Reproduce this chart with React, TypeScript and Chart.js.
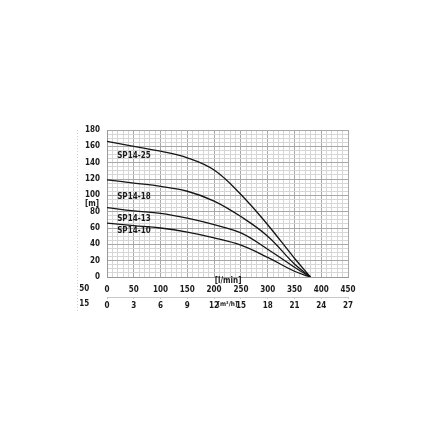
import React, { useEffect, useRef } from "react";
import { Chart, registerables } from "chart.js";

Chart.register(...registerables);

const flowLpm = [0, 50, 100, 150, 200, 250, 300, 350, 380];
const seriesNames = ["SP14-25", "SP14-18", "SP14-13", "SP14-10"];
const headSP1425 = [166, 160, 154, 146, 131, 101, 64, 23, 0];
const headSP1418 = [119, 115, 111, 105, 93, 74, 50, 16, 0];
const headSP1413 = [85, 81, 78, 72, 64, 54, 34, 12, 0];
const headSP1410 = [66, 63, 60, 55, 48, 39, 24, 7, 0];
const headSeries = [headSP1425, headSP1418, headSP1413, headSP1410];
const flowTicksLpm = [0, 50, 100, 150, 200, 250, 300, 350, 400, 450];
const flowTicksM3h = [0, 3, 6, 9, 12, 15, 18, 21, 24, 27];
const headTicks = [0, 20, 40, 60, 80, 100, 120, 140, 160, 180];

const FONT = "'Liberation Sans Narrow', 'DejaVu Sans Condensed', 'Arial Narrow', sans-serif";

const extrasPlugin = {
  id: "extras",
  afterDraw(chart: any) {
    const { ctx, chartArea, scales } = chart;
    const x = scales.x;
    const y = scales.y;
    const x2 = scales.x2;
    ctx.save();
    ctx.strokeStyle = "#cfcfcf";
    ctx.lineWidth = 1;
    ctx.setLineDash([1, 2]);
    ctx.beginPath();
    ctx.moveTo(77.5, chartArea.top);
    ctx.lineTo(77.5, chartArea.bottom + 36);
    ctx.stroke();
    ctx.setLineDash([]);

    ctx.fillStyle = "#1a1a1a";
    ctx.font = `bold 8px ${FONT}`;
    ctx.textBaseline = "middle";
    ctx.textAlign = "center";
    const yLab1 = chartArea.bottom + 12;
    const yLab2 = x2.top + 7;
    ctx.fillText("[l/min]", x.getPixelForValue(226), chartArea.bottom + 3.5);
    ctx.textAlign = "left";
    ctx.fillText("50", x.getPixelForValue(-50) - 1, yLab1);
    ctx.fillText("15", x2.getPixelForValue(-3) - 1, yLab2);
    ctx.textAlign = "right";
    ctx.fillText("[m]", chartArea.left - 8, y.getPixelForValue(90));

    ctx.textAlign = "left";
    const labelHeads = [148, 98.6, 71, 56];
    seriesNames.forEach((n, i) => {
      ctx.fillText(n, x.getPixelForValue(19), y.getPixelForValue(labelHeads[i]));
    });
    ctx.font = `bold 6.5px ${FONT}`;
    ctx.textAlign = "center";
    ctx.fillText("[m³/h]", x2.getPixelForValue(13.5), yLab2);
    ctx.restore();
  },
};

export default function App() {
  const ref = useRef<HTMLCanvasElement>(null);
  useEffect(() => {
    if (!ref.current) return;
    const tickFont = { family: FONT, size: 8, weight: "bold" as const };
    const chart = new Chart(ref.current, {
      type: "line",
      data: {
        datasets: headSeries.map((h, i) => ({
          label: seriesNames[i],
          data: flowLpm.map((f, j) => ({ x: f, y: h[j] })),
          borderColor: "#151515",
          borderWidth: 1.3,
          pointRadius: 0,
          fill: false,
          tension: 0.4,
        })),
      },
      options: {
        responsive: false,
        animation: false,
        layout: { padding: { top: 130, right: 92, left: 0, bottom: 113 } },
        plugins: { legend: { display: false }, tooltip: { enabled: false } },
        scales: {
          x: {
            type: "linear",
            min: 0,
            max: 450,
            weight: 0,
            afterFit: (s: any) => {
              s.height = 20;
            },
            ticks: {
              stepSize: 10,
              autoSkip: false,
              maxRotation: 0,
              padding: 8,
              color: "#1a1a1a",
              font: tickFont,
              callback: (v: any) => (flowTicksLpm.includes(Number(v)) ? String(v) : ""),
            },
            grid: {
              drawTicks: false,
              color: (c: any) => (c.tick && c.tick.value % 50 === 0 ? "#a8a8a8" : "#d6d6d6"),
              lineWidth: 1,
            },
            border: { display: true, color: "#999" },
          },
          x2: {
            type: "linear",
            axis: "x",
            position: "bottom",
            min: 0,
            max: 27,
            weight: 1,
            afterFit: (s: any) => {
              s.height = 30;
            },
            ticks: {
              stepSize: 3,
              autoSkip: false,
              maxRotation: 0,
              padding: 2,
              color: "#1a1a1a",
              font: tickFont,
              callback: (v: any) => (flowTicksM3h.includes(Number(v)) ? String(v) : ""),
            },
            grid: { drawOnChartArea: false, drawTicks: true, tickLength: 2, color: "#c8c8c8" },
            border: { display: true, color: "#c8c8c8" },
          },
          y: {
            type: "linear",
            min: 0,
            max: 180,
            afterFit: (s: any) => {
              s.width = 107;
            },
            ticks: {
              stepSize: 5,
              autoSkip: false,
              padding: 7,
              color: "#1a1a1a",
              font: tickFont,
              callback: (v: any) => (headTicks.includes(Number(v)) ? String(v) : ""),
            },
            grid: {
              drawTicks: false,
              color: (c: any) => (c.tick && c.tick.value % 20 === 0 ? "#a8a8a8" : "#d6d6d6"),
              lineWidth: 1,
            },
            border: { display: true, color: "#999" },
          },
        },
      },
      plugins: [extrasPlugin],
    });
    return () => chart.destroy();
  }, []);
  return (
    <div style={{ position: "absolute", left: 0, top: 0, width: 440, height: 440, background: "#fff" }}>
      <canvas ref={ref} width={440} height={440} style={{ display: "block" }} />
    </div>
  );
}
